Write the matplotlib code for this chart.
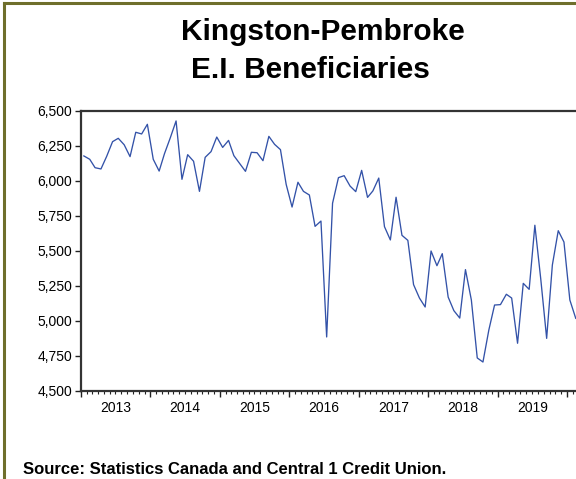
import matplotlib.pyplot as plt
import matplotlib.dates as mdates
from matplotlib.lines import Line2D
from matplotlib.ticker import FuncFormatter
import pandas as pd
from datetime import datetime

plt.rcParams["font.family"] = ["Liberation Sans", "DejaVu Sans"]

# monthly E.I. beneficiaries, Jan 2013 - Feb 2020
start_month = "2013-01"
end_month = "2020-02"
beneficiaries = [
    6179, 6155, 6095, 6086, 6176, 6281, 6305, 6259, 6174, 6348, 6336, 6405,  # 2013
    6155, 6071, 6195, 6310, 6429, 6012, 6188, 6141, 5926, 6169, 6210, 6314,  # 2014
    6240, 6290, 6181, 6124, 6069, 6205, 6202, 6145, 6319, 6262, 6224, 5976,  # 2015
    5814, 5991, 5926, 5900, 5676, 5714, 4886, 5841, 6024, 6038, 5964, 5924,  # 2016
    6076, 5883, 5929, 6021, 5674, 5579, 5884, 5612, 5576, 5260, 5164, 5100,  # 2017
    5500, 5395, 5481, 5171, 5074, 5021, 5367, 5150, 4736, 4707, 4936, 5114,  # 2018
    5117, 5191, 5164, 4841, 5269, 5226, 5684, 5300, 4876, 5400, 5645, 5564,  # 2019
    5150, 5019,  # 2020
]
year_labels = [2013, 2014, 2015, 2016, 2017, 2018, 2019]
y_ticks = [4500, 4750, 5000, 5250, 5500, 5750, 6000, 6250, 6500]

dates = pd.date_range(start_month, end_month, freq="MS") + pd.Timedelta(days=15)
s = pd.Series(beneficiaries, index=dates)

W, H = 576, 479
fig = plt.figure(figsize=(W / 100, H / 100), dpi=100)
ax = fig.add_axes([81 / W, 88 / H, 503.3 / W, 280 / H])

ax.plot(s.index, s.values, color="#3352a8", lw=0.95)

ax.set_xlim(datetime(2013, 1, 1), datetime(2020, 4, 1))
ax.set_ylim(4500, 6500)
ax.set_yticks(y_ticks)
ax.yaxis.set_major_formatter(FuncFormatter(lambda v, p: f"{int(v):,}"))

ax.xaxis.set_major_locator(mdates.YearLocator())
ax.xaxis.set_minor_locator(mdates.MonthLocator())
ax.xaxis.set_major_formatter(FuncFormatter(lambda v, p: ""))
ax.tick_params(axis="x", which="major", length=4.5, width=1, direction="out", color="#222222")
ax.tick_params(axis="x", which="minor", length=2.3, width=0.8, direction="out", color="#222222")
ax.tick_params(axis="y", length=4.3, width=1, pad=2, labelsize=10, color="#222222")

for yr in year_labels:
    ax.text(datetime(yr, 7, 2), -0.062, str(yr), transform=ax.get_xaxis_transform(),
            ha="center", va="center", fontsize=10)

for side in ["left", "bottom", "top"]:
    ax.spines[side].set_linewidth(1.6)
    ax.spines[side].set_color("#333333")
ax.spines["right"].set_visible(False)

fig.text(323 / W, 1 - 40 / H, "Kingston-Pembroke", ha="center", va="baseline",
         fontsize=21.5, fontweight="bold")
fig.text(310 / W, 1 - 78 / H, "E.I. Beneficiaries", ha="center", va="baseline",
         fontsize=21.5, fontweight="bold")
fig.text(23 / W, 1 - 474 / H, "Source: Statistics Canada and Central 1 Credit Union.",
         ha="left", va="baseline", fontsize=12, fontweight="bold")

# olive frame on the left and top edges
border = "#6f6f2c"
fig.add_artist(Line2D([3.5 / W, 3.5 / W], [0, 1 - 3 / H], color=border, lw=2.2))
fig.add_artist(Line2D([3.5 / W, 1], [1 - 3 / H, 1 - 3 / H], color=border, lw=2.2))

fig.savefig("out.png", dpi=100)
